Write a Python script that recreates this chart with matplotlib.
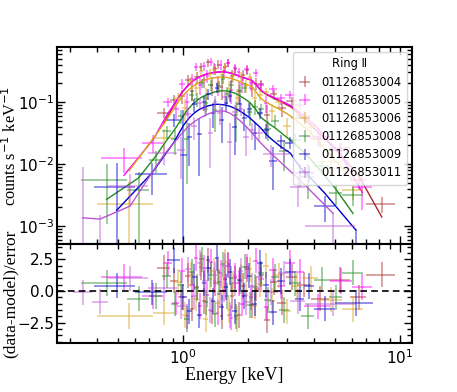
import numpy as np
import matplotlib
matplotlib.use("Agg")
import matplotlib.pyplot as plt
from matplotlib.ticker import LogLocator, MultipleLocator, AutoMinorLocator, NullFormatter

obs_ids = ["01126853004", "01126853005", "01126853006", "01126853008", "01126853009", "01126853011"]
colors = ["#a52a2a", "#ff00ff", "#daa520", "#228b22", "#0000cd", "#ba55d3"]
legend_title = "Ring \u2161"

# ---- 01126853004 ----
edges_004 = [0.76, 0.87, 0.95, 1.02, 1.08, 1.13, 1.18, 1.23, 1.28, 1.33, 1.38, 1.43, 1.48, 1.53, 1.59, 1.65,
             1.71, 1.78, 1.85, 1.93, 2.02, 2.12, 2.23, 2.36, 2.52, 2.72, 2.98, 3.35, 3.9, 4.7, 5.9, 7.0, 9.5]
flux_004 = [0.067, 0.108, 0.124, 0.228, 0.149, 0.256, 0.368, 0.227, 0.434, 0.191, 0.339, 0.402, 0.173, 0.362,
            0.432, 0.263, 0.335, 0.152, 0.270, 0.324, 0.170, 0.198, 0.194, 0.061, 0.133, 0.080, 0.102, 0.059,
            0.0255, 0.018, 0.0056, 0.0023]
err_004 = [0.012, 0.022, 0.032, 0.040, 0.047, 0.052, 0.057, 0.060, 0.062, 0.064, 0.065, 0.066, 0.066, 0.065,
           0.064, 0.062, 0.060, 0.058, 0.055, 0.052, 0.050, 0.042, 0.034, 0.030, 0.026, 0.022, 0.018, 0.012,
           0.0075, 0.004, 0.0018, 0.0007]
model_004 = [0.045, 0.090, 0.14, 0.18, 0.215, 0.24, 0.26, 0.275, 0.285, 0.293, 0.30, 0.303, 0.305, 0.303,
             0.298, 0.288, 0.275, 0.262, 0.248, 0.236, 0.225, 0.19, 0.15, 0.13, 0.115, 0.10, 0.082, 0.053,
             0.030, 0.0145, 0.0065, 0.0014]

# ---- 01126853005 ----
edges_005 = [0.42, 0.65, 0.81, 0.89, 0.96, 1.02, 1.07, 1.12, 1.17, 1.22, 1.27, 1.32, 1.37, 1.42, 1.47, 1.52,
             1.58, 1.64, 1.70, 1.77, 1.84, 1.92, 2.01, 2.11, 2.22, 2.35, 2.50, 2.70, 2.95, 3.30, 3.60, 4.75,
             6.0, 7.4]
flux_005 = [0.0127, 0.0222, 0.100, 0.078, 0.198, 0.100, 0.233, 0.370, 0.188, 0.380, 0.266, 0.445, 0.353,
            0.191, 0.401, 0.312, 0.432, 0.156, 0.351, 0.300, 0.195, 0.337, 0.201, 0.298, 0.186, 0.096, 0.162,
            0.114, 0.130, 0.0905, 0.0278, 0.0171, 0.0043]
err_005 = [0.0055, 0.007, 0.016, 0.024, 0.033, 0.040, 0.046, 0.052, 0.056, 0.060, 0.063, 0.065, 0.066, 0.067,
           0.067, 0.067, 0.066, 0.064, 0.061, 0.058, 0.055, 0.052, 0.050, 0.043, 0.034, 0.030, 0.026, 0.023,
           0.019, 0.015, 0.0085, 0.0045, 0.0025]
model_005 = [0.0066, 0.025, 0.065, 0.10, 0.145, 0.18, 0.21, 0.235, 0.255, 0.272, 0.285, 0.295, 0.30, 0.305,
             0.307, 0.305, 0.30, 0.29, 0.278, 0.265, 0.25, 0.238, 0.226, 0.195, 0.155, 0.135, 0.12, 0.105,
             0.088, 0.068, 0.038, 0.0135, 0.0035]

# ---- 01126853006 ----
edges_006 = [0.40, 0.73, 0.91, 0.99, 1.06, 1.12, 1.18, 1.24, 1.30, 1.36, 1.42, 1.48, 1.54, 1.60, 1.67, 1.74,
             1.82, 1.90, 1.99, 2.09, 2.20, 2.33, 2.48, 2.66, 2.88, 3.15, 3.55, 4.2, 5.4, 6.75]
flux_006 = [0.0023, 0.0263, 0.117, 0.079, 0.219, 0.169, 0.312, 0.118, 0.285, 0.331, 0.200, 0.269, 0.377,
            0.164, 0.266, 0.114, 0.259, 0.182, 0.250, 0.114, 0.132, 0.146, 0.072, 0.099, 0.041, 0.0548,
            0.040, 0.0106, 0.0038]
err_006 = [0.0028, 0.011, 0.024, 0.032, 0.038, 0.043, 0.047, 0.050, 0.052, 0.054, 0.055, 0.055, 0.055, 0.054,
           0.052, 0.049, 0.046, 0.043, 0.040, 0.034, 0.027, 0.023, 0.020, 0.018, 0.015, 0.012, 0.008, 0.0042,
           0.0012]
model_006 = [0.0078, 0.045, 0.10, 0.14, 0.17, 0.195, 0.213, 0.228, 0.238, 0.245, 0.25, 0.252, 0.25, 0.245,
             0.235, 0.222, 0.208, 0.195, 0.182, 0.155, 0.118, 0.10, 0.088, 0.077, 0.065, 0.05, 0.032, 0.0135,
             0.0055]

# ---- 01126853008 ----
edges_008 = [0.34, 0.55, 0.70, 0.80, 0.88, 0.95, 1.01, 1.07, 1.13, 1.19, 1.25, 1.31, 1.37, 1.43, 1.49, 1.56,
             1.63, 1.71, 1.79, 1.88, 1.98, 2.09, 2.22, 2.37, 2.55, 2.78, 3.08, 3.5, 4.0, 4.7, 5.4, 6.75]
flux_008 = [0.0055, 0.0038, 0.0117, 0.0336, 0.025, 0.0595, 0.0258, 0.129, 0.112, 0.205, 0.0976, 0.187, 0.073,
            0.179, 0.238, 0.134, 0.185, 0.061, 0.153, 0.171, 0.0683, 0.0846, 0.0784, 0.0369, 0.0501, 0.0163,
            0.0246, 0.0063, 0.0093, 0.0034, 0.0032]
err_008 = [0.0044, 0.0036, 0.0045, 0.008, 0.011, 0.015, 0.021, 0.026, 0.030, 0.034, 0.036, 0.038, 0.040, 0.041,
           0.041, 0.041, 0.040, 0.038, 0.035, 0.031, 0.027, 0.022, 0.016, 0.013, 0.011, 0.0085, 0.006, 0.0036,
           0.002, 0.0012, 0.0011]
model_008 = [0.0027, 0.0060, 0.0135, 0.024, 0.036, 0.052, 0.072, 0.090, 0.106, 0.120, 0.130, 0.138, 0.145,
             0.150, 0.152, 0.150, 0.145, 0.137, 0.125, 0.112, 0.098, 0.078, 0.056, 0.046, 0.038, 0.029, 0.021,
             0.0135, 0.0075, 0.0040, 0.0016]

# ---- 01126853009 ----
edges_009 = [0.39, 0.60, 0.84, 0.97, 1.04, 1.10, 1.16, 1.22, 1.28, 1.34, 1.40, 1.47, 1.54, 1.61, 1.69, 1.78,
             1.87, 1.97, 2.08, 2.20, 2.34, 2.50, 2.70, 2.95, 3.30, 3.60, 4.0, 5.0, 7.5]
flux_009 = [0.0043, 0.0068, 0.051, 0.014, 0.0272, 0.0912, 0.0304, 0.0982, 0.137, 0.0668, 0.17, 0.052, 0.0977,
            0.127, 0.039, 0.0936, 0.0556, 0.0776, 0.032, 0.0665, 0.0348, 0.0113, 0.0238, 0.0222, 0.0072,
            0.0072, 0.0021, 0.0002]
err_009 = [0.006, 0.0036, 0.012, 0.06, 0.018, 0.022, 0.024, 0.027, 0.028, 0.029, 0.03, 0.03, 0.029, 0.028,
           0.025, 0.024, 0.021, 0.018, 0.015, 0.0125, 0.0095, 0.0075, 0.006, 0.0048, 0.003, 0.002, 0.00093,
           0.0007]
model_009 = [0.0018, 0.0072, 0.022, 0.042, 0.056, 0.067, 0.076, 0.082, 0.087, 0.090, 0.092, 0.091, 0.089,
             0.085, 0.079, 0.072, 0.064, 0.056, 0.047, 0.039, 0.030, 0.024, 0.019, 0.015, 0.009, 0.0064,
             0.0034, 0.00087]

# ---- 01126853011 ----
edges_011 = [0.31, 0.38, 0.45, 0.69, 0.94, 1.02, 1.09, 1.16, 1.23, 1.30, 1.37, 1.44, 1.52, 1.60, 1.69, 1.79,
             1.90, 2.02, 2.16, 2.34, 2.74, 3.1, 3.65, 6.2]
flux_011 = [0.0004, 0.0003, 0.0045, 0.0151, 0.0168, 0.0638, 0.0412, 0.0968, 0.0778, 0.0315, 0.101, 0.067,
            0.121, 0.0223, 0.070, 0.0762, 0.0274, 0.0354, 0.0318, 0.0145, 0.0144, 0.0042, 0.0010]
err_011 = [0.0087, 0.0012, 0.0024, 0.0055, 0.011, 0.014, 0.017, 0.019, 0.021, 0.023, 0.024, 0.025, 0.025,
           0.023, 0.020, 0.017, 0.014, 0.011, 0.008, 0.0055, 0.0035, 0.0022, 0.0006]
model_011 = [0.00136, 0.0013, 0.0021, 0.014, 0.030, 0.040, 0.048, 0.055, 0.061, 0.066, 0.070, 0.072, 0.071,
             0.066, 0.058, 0.049, 0.040, 0.031, 0.023, 0.015, 0.0095, 0.006, 0.0016]

datasets = [
    (edges_004, flux_004, err_004, model_004),
    (edges_005, flux_005, err_005, model_005),
    (edges_006, flux_006, err_006, model_006),
    (edges_008, flux_008, err_008, model_008),
    (edges_009, flux_009, err_009, model_009),
    (edges_011, flux_011, err_011, model_011),
]

W, H = 457, 392
fig = plt.figure(figsize=(W / 100, H / 100), dpi=100)
L, R = 57, 412
T, M, B = 47, 244, 343
ax = fig.add_axes([L / W, 1 - M / H, (R - L) / W, (M - T) / H])
axr = fig.add_axes([L / W, 1 - B / H, (R - L) / W, (B - M) / H], sharex=ax)

for (edges, flux, err, model), c, lab in zip(datasets, colors, obs_ids):
    e = np.asarray(edges)
    cen = 0.5 * (e[:-1] + e[1:])
    half = 0.5 * (e[1:] - e[:-1])
    y = np.asarray(flux)
    dy = np.asarray(err)
    m = np.asarray(model)
    ax.errorbar(cen, y, xerr=half, yerr=dy, fmt="none", ecolor=c, elinewidth=1.1,
                alpha=0.55, label=lab)
    ax.plot(cen, m, color=c, lw=1.0)
    resid = (y - m) / dy
    axr.errorbar(cen, resid, xerr=half, yerr=np.ones_like(resid), fmt="none", ecolor=c,
                 elinewidth=1.1, alpha=0.55)

axr.axhline(0.0, color="black", lw=1.2, ls=(0, (4, 2.5)))

ax.set_xscale("log")
ax.set_yscale("log")
ax.set_xlim(0.2627, 11.36)
ax.set_ylim(5.15e-4, 0.77)
axr.set_ylim(-4.1, 3.7)

axr.yaxis.set_major_locator(MultipleLocator(2.5))
axr.yaxis.set_minor_locator(AutoMinorLocator(5))
ax.yaxis.set_major_locator(LogLocator(base=10, numticks=10))
ax.yaxis.set_minor_locator(LogLocator(base=10, subs=np.arange(2, 10), numticks=20))
ax.yaxis.set_minor_formatter(NullFormatter())
axr.xaxis.set_major_locator(LogLocator(base=10, numticks=10))
axr.xaxis.set_minor_locator(LogLocator(base=10, subs=np.arange(2, 10), numticks=20))
axr.xaxis.set_minor_formatter(NullFormatter())
plt.setp(ax.get_xticklabels(), visible=False)

for a in (ax, axr):
    a.tick_params(which="both", direction="in", top=True, right=True, labelsize=11, width=1.0)
    a.tick_params(which="major", length=5.5)
    a.tick_params(which="minor", length=3.5)
    a.tick_params(axis="y", which="major", pad=2.2)
    for s in a.spines.values():
        s.set_linewidth(1.5)

ax.set_ylabel("counts s$^{-1}$ keV$^{-1}$", family="Liberation Serif", size=11.8)
axr.set_ylabel("(data-model)/error", family="Liberation Serif", size=12.5)
axr.set_xlabel("Energy [keV]", labelpad=0, family="Liberation Serif", size=13)
ax.yaxis.set_label_coords(-0.104, 0.5)
axr.yaxis.set_label_coords(-0.108, 0.5)

leg = ax.legend(title=legend_title, loc="upper right", fontsize=8.3, title_fontsize=8.3,
                framealpha=0.8, handlelength=1.1, handletextpad=0.9, borderpad=0.45,
                borderaxespad=0.45, labelspacing=0.45)

fig.savefig("out.png", dpi=100)
